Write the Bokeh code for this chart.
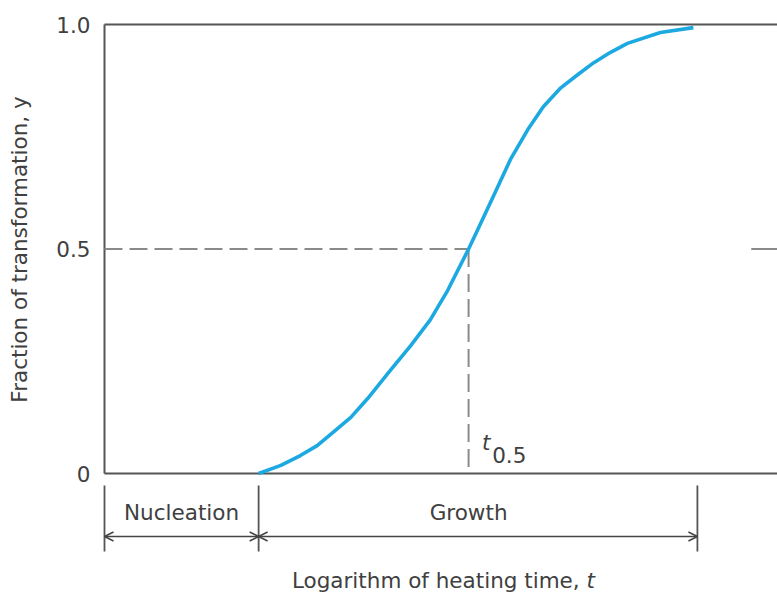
from bokeh.plotting import figure
from bokeh.layouts import column
from bokeh.models import Range1d, FixedTicker, Label, Arrow, OpenHead
from bokeh.embed import file_html
from bokeh.resources import INLINE

# ---- data ----
x_log_time = [22.9, 26.2, 29.1, 31.6, 34.0, 36.6, 39.1, 42.5, 45.5, 48.4, 51.0,
              54.1, 55.4, 57.8, 60.3, 62.9, 65.2, 67.8, 70.3, 72.7, 75.2, 77.7,
              82.6, 87.5]
y_fraction = [0.0, 0.018, 0.040, 0.062, 0.092, 0.125, 0.167, 0.230, 0.285, 0.342,
              0.408, 0.500, 0.541, 0.618, 0.699, 0.766, 0.817, 0.859, 0.888, 0.915,
              0.938, 0.958, 0.982, 0.993]
y_ticks = [0, 0.5, 1.0]
y_tick_labels = ["0", "0.5", "1.0"]
t_half = 54.1
y_half = 0.5
nucleation_start = 0.0
growth_start = 22.9
growth_end = 88.1
right_dash = [96.1, 100.0]
phase_names = ["Nucleation", "Growth"]

# ---- layout constants ----
PX = 6.73   # pixels per x unit
PY = 449.0  # pixels per y unit
W = 777
H1, H2 = 485, 113
FONT = "DejaVu Sans"
FS = "21.5px"
GRAY = "#555555"
TXT = "#404040"
DASHC = "#8a8a8a"

x_range = Range1d(-6 / PX, 673 / PX)

# ---------------- main chart ----------------
p = figure(width=W, height=H1, output_backend="svg", toolbar_location=None,
           x_range=x_range, y_range=Range1d(-5 / PY, 1.0 + 4 / PY),
           x_axis_location=None, min_border_left=98, min_border_right=0,
           min_border_top=20, min_border_bottom=7)
p.outline_line_color = None
p.grid.visible = False
p.background_fill_color = "white"

ax = p.yaxis[0]
ax.ticker = FixedTicker(ticks=y_ticks)
ax.major_label_overrides = {t: s for t, s in zip(y_ticks, y_tick_labels)}
ax.axis_line_color = None
ax.major_tick_line_color = None
ax.minor_tick_line_color = None
ax.major_label_standoff = 2
ax.major_label_text_font = FONT
ax.major_label_text_font_size = FS
ax.major_label_text_color = TXT
ax.axis_label = "Fraction of transformation, y"
ax.axis_label_text_font = FONT
ax.axis_label_text_font_size = FS
ax.axis_label_text_font_style = "normal"
ax.axis_label_text_color = TXT
ax.axis_label_standoff = 21

# frame lines (left, top, bottom)
p.line([0, 0], [0, 1], line_color=GRAY, line_width=2)
p.line([0, 110], [1, 1], line_color=GRAY, line_width=2)
p.line([0, 110], [0, 0], line_color=GRAY, line_width=2)

# dashed guides
DASH = "18 7"
p.line([0, t_half], [y_half, y_half], line_color=DASHC, line_width=2, line_dash=DASH)
p.line([t_half, t_half], [y_half, 0], line_color=DASHC, line_width=2, line_dash=DASH)
p.line(right_dash, [y_half, y_half], line_color=DASHC, line_width=2)

# curve
p.line(x_log_time, y_fraction, line_color="#1CA9E1", line_width=3.6, line_join="round")

# t_0.5 label
p.add_layout(Label(x=t_half + 2.0, y=31 / PY, text="t", text_font=FONT,
                   text_font_style="italic", text_font_size=FS, text_color=TXT,
                   text_align="left", text_baseline="alphabetic"))
p.add_layout(Label(x=t_half + 3.5, y=19 / PY, text="0.5", text_font=FONT,
                   text_font_size=FS, text_color=TXT,
                   text_align="left", text_baseline="alphabetic"))

# ---------------- brackets / x title ----------------
q = figure(width=W, height=H2, output_backend="svg", toolbar_location=None,
           x_range=x_range, y_range=Range1d(-125 / PY, -12 / PY),
           x_axis_location=None, y_axis_location=None,
           min_border_left=98, min_border_right=0, min_border_top=0, min_border_bottom=0)
q.outline_line_color = None
q.grid.visible = False
q.background_fill_color = "white"

tick_top = -8 / PY
tick_bot = -78 / PY
arrow_y = -63 / PY
for xb in [nucleation_start, growth_start, growth_end]:
    q.line([xb, xb], [tick_top, tick_bot], line_color=GRAY, line_width=1.8)
for a, b in [(nucleation_start, growth_start), (growth_start, growth_end)]:
    q.add_layout(Arrow(x_start=a, y_start=arrow_y, x_end=b, y_end=arrow_y,
                       line_color="#444444", line_width=1.5,
                       start=OpenHead(size=9, line_color="#444444", line_width=1.5),
                       end=OpenHead(size=9, line_color="#444444", line_width=1.5)))
label_xs = [(nucleation_start + growth_start) / 2, t_half]
for name, lx in zip(phase_names, label_xs):
    q.add_layout(Label(x=lx, y=-39 / PY, text=name, text_font=FONT,
                       text_font_size=FS, text_color=TXT,
                       text_align="center", text_baseline="middle"))

xt_anchor = (586 - 104) / PX
q.add_layout(Label(x=xt_anchor, y=-107 / PY, text="Logarithm of heating time, ",
                   text_font=FONT, text_font_size=FS, text_color=TXT,
                   text_align="right", text_baseline="middle"))
q.add_layout(Label(x=xt_anchor, y=-107 / PY, text="t",
                   text_font=FONT, text_font_style="italic", text_font_size=FS,
                   text_color=TXT, text_align="left", text_baseline="middle"))

layout = column(p, q, spacing=0)
open("out.html", "w").write(file_html(layout, INLINE))
